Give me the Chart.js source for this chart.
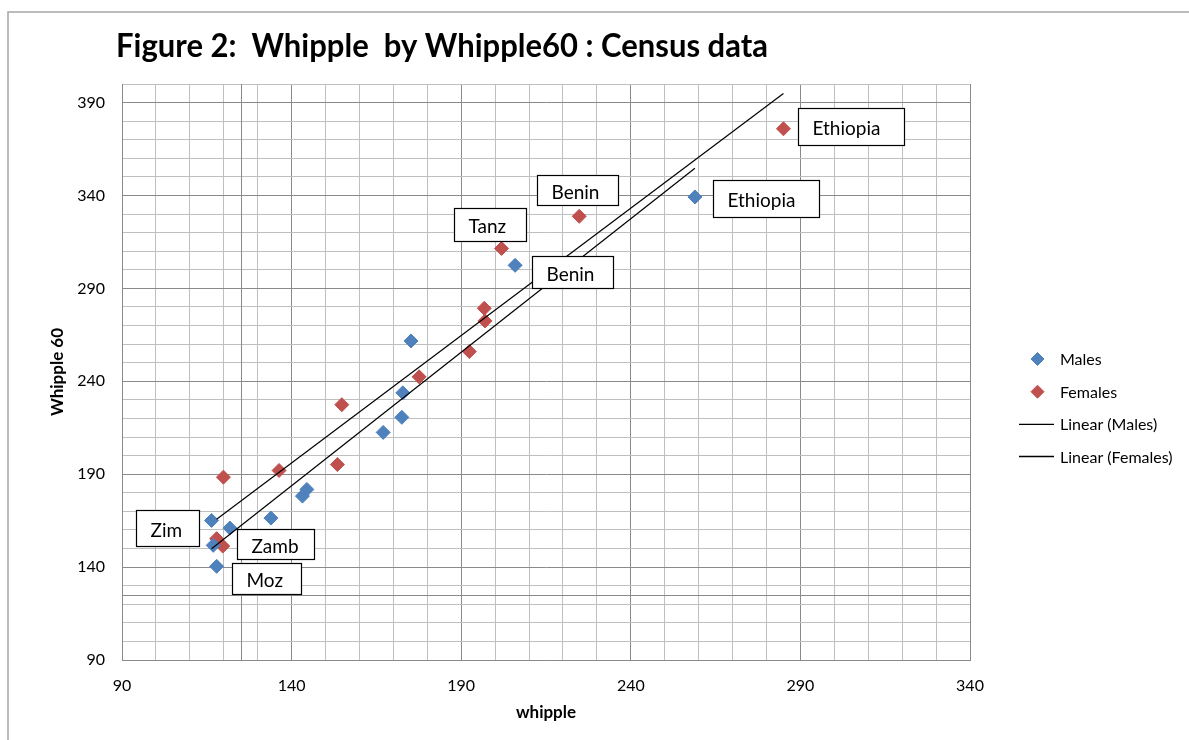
<!DOCTYPE html>
<html>
<head>
<meta charset="utf-8">
<title>Figure 2: Whipple by Whipple60 : Census data</title>
<script src="https://cdn.jsdelivr.net/npm/chart.js@4.4.0/dist/chart.umd.min.js"></script>
<style>
    html, body { margin: 0; padding: 0; background: #fff; }
    canvas { display: block; }
</style>
</head>
<body>
<canvas id="whippleChart" width="1189" height="740"></canvas>
<script>
// Census data: whipple index (x) against whipple60 (y)
const malesWhipple     = [116.4, 121.8, 116.9, 117.9, 133.9, 143.2, 144.5, 167.0, 172.5, 172.8, 175.2, 205.9, 258.9];
const malesWhipple60   = [165.1, 161.0, 151.7, 140.4, 166.4, 178.2, 181.8, 212.5, 220.6, 233.8, 261.7, 302.4, 339.2];
const femalesWhipple   = [119.9, 117.9, 119.7, 136.3, 153.5, 154.8, 177.6, 192.4, 197.0, 196.8, 201.9, 224.8, 285.0];
const femalesWhipple60 = [188.4, 155.3, 151.3, 192.0, 195.2, 227.4, 242.4, 256.0, 272.5, 279.3, 311.5, 328.8, 375.9];

// labelled ticks (Excel starts counting from the axis minimum)
const xTickLabels = [90, 140, 190, 240, 290, 340];
const yTickLabels = [90, 140, 190, 240, 290, 340, 390];

// value where the extra axis cross lines sit
const crossValue = 125;

// country call-outs: which point they belong to
const countryLabels = [
    { text: "Ethiopia", series: 1, index: 12 },
    { text: "Ethiopia", series: 0, index: 12 },
    { text: "Benin",    series: 1, index: 11 },
    { text: "Tanz",     series: 1, index: 10 },
    { text: "Benin",    series: 0, index: 11 },
    { text: "Zim",      series: 0, index: 0 },
    { text: "Zamb",     series: 0, index: 1 },
    { text: "Moz",      series: 0, index: 3 }
];

// box placement relative to the point (px), same order as countryLabels
const calloutBoxes = [
    { dx: 15,   dy: -21,   w: 106, h: 37 },
    { dx: 17.7, dy: -17,   w: 106, h: 37 },
    { dx: -42,  dy: -41,   w: 81,  h: 30 },
    { dx: -47.4,dy: -40.6, w: 72,  h: 33 },
    { dx: 16.7, dy: -9.6,  w: 81,  h: 32 },
    { dx: -76,  dy: -10,   w: 63,  h: 36 },
    { dx: 6.7,  dy: 1.3,   w: 77,  h: 30 },
    { dx: 15.6, dy: -3.3,  w: 69,  h: 31 }
];

const FONT = "Lato, 'Open Sans', sans-serif";
const MAJOR_GRID = "#8a8a8a";
const MINOR_GRID = "#bfbfbf";

function toPoints(xs, ys) {
    return xs.map((x, i) => ({ x: x, y: ys[i] }));
}

// least squares line over the series x range (Excel "Linear" trendline)
function linearFit(xs, ys) {
    const n = xs.length;
    const mx = xs.reduce((a, b) => a + b, 0) / n;
    const my = ys.reduce((a, b) => a + b, 0) / n;
    let sxy = 0, sxx = 0;
    xs.forEach((x, i) => {
        sxy += (x - mx) * (ys[i] - my);
        sxx += (x - mx) * (x - mx);
    });
    const slope = sxy / sxx;
    const icpt = my - slope * mx;
    const x0 = Math.min(...xs), x1 = Math.max(...xs);
    return [{ x: x0, y: icpt + slope * x0 }, { x: x1, y: icpt + slope * x1 }];
}

const decorPlugin = {
    id: "figureDecor",
    beforeDraw(chart) {
        const ctx = chart.ctx;
        ctx.save();
        ctx.fillStyle = "#fff";
        ctx.fillRect(0, 0, chart.width, chart.height);
        ctx.strokeStyle = "#a6a6a6";
        ctx.lineWidth = 1.5;
        ctx.strokeRect(8, 12, chart.width + 40, chart.height + 40);
        ctx.restore();
    },
    beforeDatasetsDraw(chart) {
        const { ctx, chartArea, scales } = chart;
        const px = Math.round(scales.x.getPixelForValue(crossValue)) + 0.5;
        const py = Math.round(scales.y.getPixelForValue(crossValue)) + 0.5;
        ctx.save();
        ctx.strokeStyle = MAJOR_GRID;
        ctx.lineWidth = 1;
        ctx.beginPath();
        ctx.moveTo(px, chartArea.top);
        ctx.lineTo(px, chartArea.bottom);
        ctx.moveTo(chartArea.left, py);
        ctx.lineTo(chartArea.right, py);
        ctx.stroke();
        ctx.restore();
    },
    afterDatasetsDraw(chart) {
        const ctx = chart.ctx;
        ctx.save();
        ctx.font = "19px " + FONT;
        ctx.textBaseline = "alphabetic";
        countryLabels.forEach((lab, i) => {
            const el = chart.getDatasetMeta(lab.series).data[lab.index];
            const b = calloutBoxes[i];
            const left = Math.round(el.x + b.dx) + 0.5;
            const top = Math.round(el.y + b.dy) + 0.5;
            ctx.fillStyle = "#fff";
            ctx.fillRect(left, top, b.w, b.h);
            ctx.strokeStyle = "#000";
            ctx.lineWidth = 1.2;
            ctx.strokeRect(left, top, b.w, b.h);
            ctx.fillStyle = "#000";
            ctx.fillText(lab.text, left + 14, top + b.h / 2 + 8);
        });
        ctx.restore();
    },
    afterDraw(chart) {
        const ctx = chart.ctx;
        ctx.save();

        // title, squeezed to the reference width
        const title = "Figure 2:  Whipple  by Whipple60 : Census data";
        ctx.font = "bold 32px " + FONT;
        ctx.fillStyle = "#000";
        ctx.textBaseline = "alphabetic";
        const tw = ctx.measureText(title).width;
        ctx.save();
        ctx.translate(116, 57);
        ctx.scale(652 / tw, 1);
        ctx.fillText(title, 0, 0);
        ctx.restore();

        // legend
        const rows = [359, 391.7, 424.3, 456.5];
        ctx.font = "16px " + FONT;
        ctx.textBaseline = "middle";
        chart.data.datasets.forEach((ds, i) => {
            const y = rows[i];
            if (ds.type === "line") {
                ctx.strokeStyle = ds.borderColor;
                ctx.lineWidth = 1.3;
                ctx.beginPath();
                ctx.moveTo(1019, y);
                ctx.lineTo(1054, y);
                ctx.stroke();
            } else {
                ctx.fillStyle = ds.backgroundColor;
                ctx.strokeStyle = ds.borderColor;
                ctx.lineWidth = 1;
                Chart.helpers.drawPoint(ctx, { pointStyle: "rectRot", radius: 6.5, rotation: 0, borderWidth: 1 }, 1037.5, y);
            }
            ctx.fillStyle = "#000";
            ctx.fillText(ds.label, 1060, y + 1);
        });
        ctx.restore();
    }
};

const gridColor = ctx => {
    const v = ctx.tick ? ctx.tick.value : null;
    return (v - 90) % 50 === 0 ? MAJOR_GRID : MINOR_GRID;
};

const chart = new Chart(document.getElementById("whippleChart"), {
    type: "scatter",
    data: {
        datasets: [
            {
                label: "Males",
                data: toPoints(malesWhipple, malesWhipple60),
                backgroundColor: "#4f81bd",
                borderColor: "#4f81bd",
                borderWidth: 1,
                pointStyle: "rectRot",
                pointRadius: 7,
                order: 2
            },
            {
                label: "Females",
                data: toPoints(femalesWhipple, femalesWhipple60),
                backgroundColor: "#c0504d",
                borderColor: "#c0504d",
                borderWidth: 1,
                pointStyle: "rectRot",
                pointRadius: 7,
                order: 2
            },
            {
                type: "line",
                label: "Linear (Males)",
                data: linearFit(malesWhipple, malesWhipple60),
                borderColor: "#000",
                borderWidth: 1.2,
                pointRadius: 0,
                fill: false,
                order: 1
            },
            {
                type: "line",
                label: "Linear (Females)",
                data: linearFit(femalesWhipple, femalesWhipple60),
                borderColor: "#000",
                borderWidth: 1.2,
                pointRadius: 0,
                fill: false,
                order: 1
            }
        ]
    },
    options: {
        responsive: false,
        animation: false,
        events: [],
        layout: { padding: { left: 47, top: 84, right: 219, bottom: 17 } },
        plugins: {
            legend: { display: false },
            title: { display: false },
            tooltip: { enabled: false }
        },
        scales: {
            x: {
                type: "linear",
                min: 90,
                max: 340,
                afterFit: s => { s.height = 63; },
                ticks: {
                    stepSize: 10,
                    autoSkip: false,
                    maxRotation: 0,
                    padding: 16,
                    color: "#000",
                    font: { family: FONT, size: 16 },
                    callback: v => xTickLabels.includes(v) ? v : ""
                },
                grid: { color: gridColor, lineWidth: 1, drawTicks: false },
                border: { color: MAJOR_GRID },
                title: {
                    display: true,
                    text: "whipple",
                    color: "#000",
                    padding: 0,
                    font: { family: FONT, size: 17, weight: "bold" }
                }
            },
            y: {
                type: "linear",
                min: 90,
                max: 400,
                afterFit: s => { s.width = 75; },
                ticks: {
                    stepSize: 10,
                    autoSkip: false,
                    padding: 17,
                    color: "#000",
                    font: { family: FONT, size: 16 },
                    callback: v => yTickLabels.includes(v) ? v : ""
                },
                grid: { color: gridColor, lineWidth: 1, drawTicks: false },
                border: { color: MAJOR_GRID },
                title: {
                    display: true,
                    text: "Whipple 60",
                    color: "#000",
                    padding: 0,
                    font: { family: FONT, size: 17, weight: "bold" }
                }
            }
        }
    },
    plugins: [decorPlugin]
});
</script>
</body>
</html>
